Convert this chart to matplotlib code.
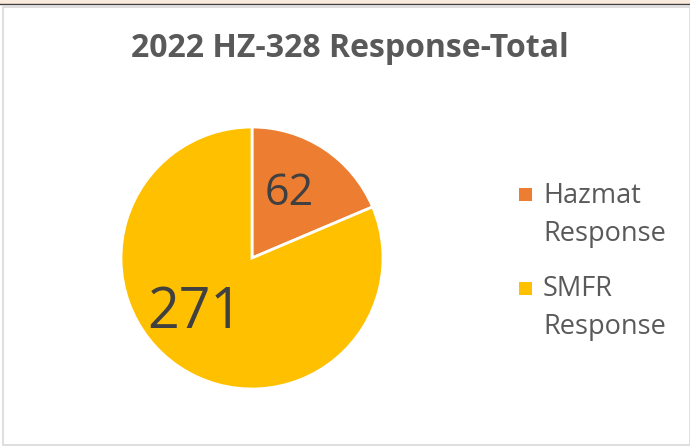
import matplotlib
matplotlib.use("Agg")
import matplotlib.pyplot as plt
from matplotlib.patches import Rectangle

categories = ["Hazmat\nResponse", "SMFR\nResponse"]
values = [62, 271]
colors = ["#ED7D31", "#FFC000"]
title = "2022 HZ-328 Response-Total"

W, H = 690, 447
fig = plt.figure(figsize=(W/100, H/100), dpi=100)
fig.patch.set_facecolor("white")

def fy(y):
    return 1 - y / H

# top strip and chart border
fig.add_artist(Rectangle((0, 1 - 4/H), 1, 4/H, transform=fig.transFigure,
                         facecolor="#FBEBDD", edgecolor="none"))
fig.add_artist(plt.Line2D([0, 1], [1 - 3.5/H, 1 - 3.5/H], transform=fig.transFigure,
                          color="#404040", lw=1))
fig.add_artist(Rectangle((3/W, 2/H), (W - 3)/W, (H - 9)/H, transform=fig.transFigure,
                         facecolor="none", edgecolor="#D9D9D9", lw=1.2))

fam = ["Open Sans", "DejaVu Sans"]
fig.text(350/W, fy(57), title, ha="center", va="baseline", fontsize=23,
         fontweight="bold", color="#595959", family=fam)

cx, cy, r = 252, 258, 131
ax = fig.add_axes([(cx - r)/W, 1 - (cy + r)/H, 2*r/W, 2*r/H])
wedges, _ = ax.pie(values, colors=colors, startangle=90, counterclock=False,
                   wedgeprops=dict(edgecolor="white", linewidth=2), radius=1)
ax.set_xlim(-1, 1)
ax.set_ylim(-1, 1)
ax.set_aspect("equal")
ax.axis("off")

# data labels
label_pos = [(289.5, 205, 31), (195, 328, 40)]
for v, (x, y, fs) in zip(values, label_pos):
    fig.text(x/W, fy(y), str(v), ha="center", va="baseline", fontsize=fs,
             color="#404040", family=fam)

# legend
leg_items = [(525, 194.5, [203, 241]), (525, 288, [296, 334])]
for (sx, sy, bases), cat, col in zip(leg_items, categories, colors):
    fig.add_artist(Rectangle(((sx - 6.5)/W, fy(sy + 6.5)), 13/W, 13/H,
                             transform=fig.transFigure, facecolor=col, edgecolor="none"))
    for line, b in zip(cat.split("\n"), bases):
        fig.text(543/W, fy(b), line, ha="left", va="baseline", fontsize=19.5,
                 color="#595959", family=fam)

fig.savefig("out.png", dpi=100, facecolor="white")
